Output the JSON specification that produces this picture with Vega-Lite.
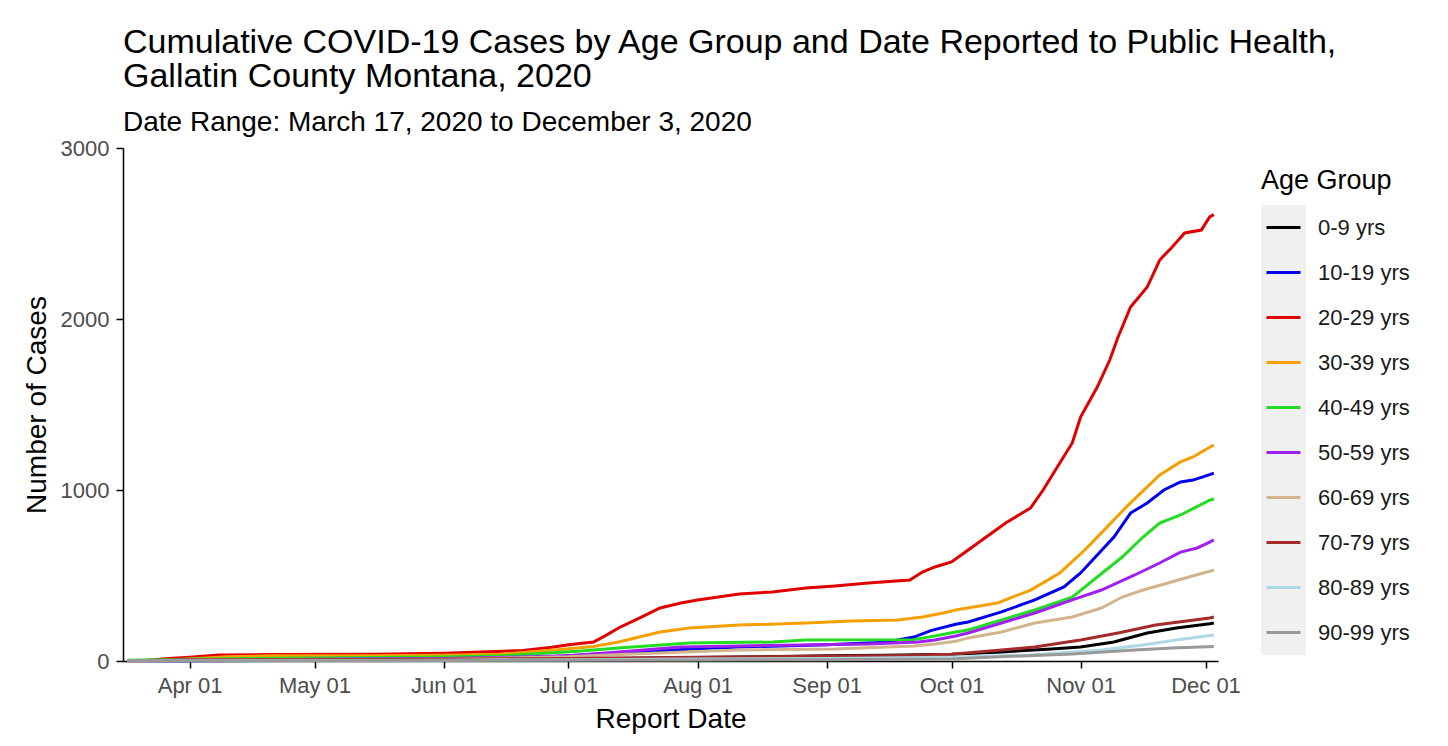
{
  "$schema": "https://vega.github.io/schema/vega-lite/v6.json",
  "width": 1095,
  "height": 513,
  "autosize": {"type": "none"},
  "padding": {"left": 123, "top": 148, "right": 230, "bottom": 85},
  "background": "white",
  "title": {
    "text": ["Cumulative COVID-19 Cases by Age Group and Date Reported to Public Health,", "Gallatin County Montana, 2020"],
    "subtitle": "Date Range: March 17, 2020 to December 3, 2020",
    "anchor": "start",
    "frame": "group",
    "font": "Liberation Sans",
    "subtitleFont": "Liberation Sans",
    "fontSize": 34,
    "subtitleFontSize": 28,
    "fontWeight": "normal",
    "color": "black",
    "subtitleColor": "black",
    "lineHeight": 34,
    "subtitlePadding": 15,
    "offset": 0
  },
  "config": {
    "font": "Liberation Sans",
    "view": {"stroke": null},
    "axis": {
      "labelFont": "Liberation Sans",
      "titleFont": "Liberation Sans",
      "grid": false,
      "domainColor": "black",
      "tickColor": "black",
      "labelColor": "#4D4D4D",
      "titleColor": "black",
      "titleFontWeight": "normal",
      "domainWidth": 1.5,
      "tickWidth": 1.5,
      "tickSize": 7
    },
    "legend": {
      "labelFont": "Liberation Sans",
      "titleFont": "Liberation Sans"
    }
  },
  "data": {
    "values": [
      {"g":"0-9 yrs","d":"2020-03-17","v":0},{"g":"0-9 yrs","d":"2020-04-01","v":2},{"g":"0-9 yrs","d":"2020-05-01","v":3},{"g":"0-9 yrs","d":"2020-06-01","v":5},{"g":"0-9 yrs","d":"2020-07-01","v":12},{"g":"0-9 yrs","d":"2020-08-01","v":20},{"g":"0-9 yrs","d":"2020-09-01","v":30},{"g":"0-9 yrs","d":"2020-09-15","v":33},{"g":"0-9 yrs","d":"2020-10-01","v":40},{"g":"0-9 yrs","d":"2020-10-13","v":53},{"g":"0-9 yrs","d":"2020-10-25","v":70},{"g":"0-9 yrs","d":"2020-11-01","v":82},{"g":"0-9 yrs","d":"2020-11-09","v":111},{"g":"0-9 yrs","d":"2020-11-17","v":164},{"g":"0-9 yrs","d":"2020-11-24","v":193},{"g":"0-9 yrs","d":"2020-12-02","v":218},{"g":"0-9 yrs","d":"2020-12-03","v":222},

      {"g":"10-19 yrs","d":"2020-03-17","v":0},{"g":"10-19 yrs","d":"2020-04-01","v":2},{"g":"10-19 yrs","d":"2020-05-01","v":4},{"g":"10-19 yrs","d":"2020-06-01","v":7},{"g":"10-19 yrs","d":"2020-06-15","v":12},{"g":"10-19 yrs","d":"2020-07-01","v":30},{"g":"10-19 yrs","d":"2020-07-15","v":50},{"g":"10-19 yrs","d":"2020-08-01","v":72},{"g":"10-19 yrs","d":"2020-08-11","v":82},{"g":"10-19 yrs","d":"2020-09-01","v":95},{"g":"10-19 yrs","d":"2020-09-15","v":110},{"g":"10-19 yrs","d":"2020-09-22","v":140},{"g":"10-19 yrs","d":"2020-09-26","v":178},{"g":"10-19 yrs","d":"2020-10-02","v":215},{"g":"10-19 yrs","d":"2020-10-05","v":228},{"g":"10-19 yrs","d":"2020-10-13","v":287},{"g":"10-19 yrs","d":"2020-10-21","v":357},{"g":"10-19 yrs","d":"2020-10-28","v":433},{"g":"10-19 yrs","d":"2020-11-01","v":515},{"g":"10-19 yrs","d":"2020-11-05","v":620},{"g":"10-19 yrs","d":"2020-11-09","v":725},{"g":"10-19 yrs","d":"2020-11-13","v":865},{"g":"10-19 yrs","d":"2020-11-17","v":924},{"g":"10-19 yrs","d":"2020-11-21","v":1000},{"g":"10-19 yrs","d":"2020-11-25","v":1047},{"g":"10-19 yrs","d":"2020-11-28","v":1058},{"g":"10-19 yrs","d":"2020-12-02","v":1090},{"g":"10-19 yrs","d":"2020-12-03","v":1099},

      {"g":"20-29 yrs","d":"2020-03-17","v":0},{"g":"20-29 yrs","d":"2020-03-22","v":5},{"g":"20-29 yrs","d":"2020-03-27","v":15},{"g":"20-29 yrs","d":"2020-04-01","v":22},{"g":"20-29 yrs","d":"2020-04-08","v":35},{"g":"20-29 yrs","d":"2020-04-20","v":38},{"g":"20-29 yrs","d":"2020-05-15","v":40},{"g":"20-29 yrs","d":"2020-06-01","v":45},{"g":"20-29 yrs","d":"2020-06-10","v":52},{"g":"20-29 yrs","d":"2020-06-20","v":62},{"g":"20-29 yrs","d":"2020-06-27","v":80},{"g":"20-29 yrs","d":"2020-07-01","v":95},{"g":"20-29 yrs","d":"2020-07-07","v":111},{"g":"20-29 yrs","d":"2020-07-10","v":150},{"g":"20-29 yrs","d":"2020-07-13","v":193},{"g":"20-29 yrs","d":"2020-07-18","v":251},{"g":"20-29 yrs","d":"2020-07-23","v":310},{"g":"20-29 yrs","d":"2020-07-28","v":339},{"g":"20-29 yrs","d":"2020-08-01","v":357},{"g":"20-29 yrs","d":"2020-08-11","v":392},{"g":"20-29 yrs","d":"2020-08-19","v":404},{"g":"20-29 yrs","d":"2020-08-27","v":427},{"g":"20-29 yrs","d":"2020-09-03","v":439},{"g":"20-29 yrs","d":"2020-09-11","v":456},{"g":"20-29 yrs","d":"2020-09-21","v":474},{"g":"20-29 yrs","d":"2020-09-24","v":520},{"g":"20-29 yrs","d":"2020-09-27","v":550},{"g":"20-29 yrs","d":"2020-10-01","v":579},{"g":"20-29 yrs","d":"2020-10-04","v":632},{"g":"20-29 yrs","d":"2020-10-09","v":719},{"g":"20-29 yrs","d":"2020-10-14","v":807},{"g":"20-29 yrs","d":"2020-10-20","v":895},{"g":"20-29 yrs","d":"2020-10-23","v":1000},{"g":"20-29 yrs","d":"2020-10-27","v":1158},{"g":"20-29 yrs","d":"2020-10-30","v":1275},{"g":"20-29 yrs","d":"2020-11-01","v":1427},{"g":"20-29 yrs","d":"2020-11-05","v":1602},{"g":"20-29 yrs","d":"2020-11-08","v":1760},{"g":"20-29 yrs","d":"2020-11-10","v":1895},{"g":"20-29 yrs","d":"2020-11-13","v":2070},{"g":"20-29 yrs","d":"2020-11-17","v":2187},{"g":"20-29 yrs","d":"2020-11-20","v":2345},{"g":"20-29 yrs","d":"2020-11-23","v":2421},{"g":"20-29 yrs","d":"2020-11-26","v":2503},{"g":"20-29 yrs","d":"2020-11-30","v":2520},{"g":"20-29 yrs","d":"2020-12-02","v":2597},{"g":"20-29 yrs","d":"2020-12-03","v":2610},

      {"g":"30-39 yrs","d":"2020-03-17","v":0},{"g":"30-39 yrs","d":"2020-03-25","v":5},{"g":"30-39 yrs","d":"2020-04-01","v":12},{"g":"30-39 yrs","d":"2020-04-10","v":25},{"g":"30-39 yrs","d":"2020-04-20","v":30},{"g":"30-39 yrs","d":"2020-05-15","v":31},{"g":"30-39 yrs","d":"2020-06-01","v":33},{"g":"30-39 yrs","d":"2020-06-15","v":40},{"g":"30-39 yrs","d":"2020-06-23","v":55},{"g":"30-39 yrs","d":"2020-07-01","v":72},{"g":"30-39 yrs","d":"2020-07-07","v":85},{"g":"30-39 yrs","d":"2020-07-13","v":111},{"g":"30-39 yrs","d":"2020-07-18","v":140},{"g":"30-39 yrs","d":"2020-07-23","v":170},{"g":"30-39 yrs","d":"2020-07-30","v":193},{"g":"30-39 yrs","d":"2020-08-11","v":210},{"g":"30-39 yrs","d":"2020-08-27","v":222},{"g":"30-39 yrs","d":"2020-09-07","v":234},{"g":"30-39 yrs","d":"2020-09-18","v":240},{"g":"30-39 yrs","d":"2020-09-24","v":257},{"g":"30-39 yrs","d":"2020-09-29","v":281},{"g":"30-39 yrs","d":"2020-10-02","v":298},{"g":"30-39 yrs","d":"2020-10-12","v":339},{"g":"30-39 yrs","d":"2020-10-20","v":415},{"g":"30-39 yrs","d":"2020-10-27","v":515},{"g":"30-39 yrs","d":"2020-11-02","v":649},{"g":"30-39 yrs","d":"2020-11-06","v":749},{"g":"30-39 yrs","d":"2020-11-12","v":901},{"g":"30-39 yrs","d":"2020-11-20","v":1088},{"g":"30-39 yrs","d":"2020-11-25","v":1164},{"g":"30-39 yrs","d":"2020-11-28","v":1193},{"g":"30-39 yrs","d":"2020-12-02","v":1250},{"g":"30-39 yrs","d":"2020-12-03","v":1263},

      {"g":"40-49 yrs","d":"2020-03-17","v":5},{"g":"40-49 yrs","d":"2020-04-01","v":10},{"g":"40-49 yrs","d":"2020-05-01","v":18},{"g":"40-49 yrs","d":"2020-06-01","v":24},{"g":"40-49 yrs","d":"2020-06-15","v":30},{"g":"40-49 yrs","d":"2020-07-04","v":58},{"g":"40-49 yrs","d":"2020-07-13","v":76},{"g":"40-49 yrs","d":"2020-07-30","v":105},{"g":"40-49 yrs","d":"2020-08-19","v":111},{"g":"40-49 yrs","d":"2020-08-27","v":123},{"g":"40-49 yrs","d":"2020-09-22","v":125},{"g":"40-49 yrs","d":"2020-09-27","v":146},{"g":"40-49 yrs","d":"2020-10-02","v":170},{"g":"40-49 yrs","d":"2020-10-05","v":181},{"g":"40-49 yrs","d":"2020-10-13","v":240},{"g":"40-49 yrs","d":"2020-10-21","v":298},{"g":"40-49 yrs","d":"2020-10-30","v":374},{"g":"40-49 yrs","d":"2020-11-05","v":491},{"g":"40-49 yrs","d":"2020-11-11","v":608},{"g":"40-49 yrs","d":"2020-11-16","v":725},{"g":"40-49 yrs","d":"2020-11-20","v":807},{"g":"40-49 yrs","d":"2020-11-25","v":854},{"g":"40-49 yrs","d":"2020-12-02","v":940},{"g":"40-49 yrs","d":"2020-12-03","v":947},

      {"g":"50-59 yrs","d":"2020-03-17","v":0},{"g":"50-59 yrs","d":"2020-04-01","v":5},{"g":"50-59 yrs","d":"2020-05-01","v":10},{"g":"50-59 yrs","d":"2020-06-01","v":14},{"g":"50-59 yrs","d":"2020-07-01","v":30},{"g":"50-59 yrs","d":"2020-07-13","v":53},{"g":"50-59 yrs","d":"2020-07-28","v":82},{"g":"50-59 yrs","d":"2020-08-11","v":88},{"g":"50-59 yrs","d":"2020-08-26","v":94},{"g":"50-59 yrs","d":"2020-09-11","v":99},{"g":"50-59 yrs","d":"2020-09-23","v":111},{"g":"50-59 yrs","d":"2020-09-27","v":123},{"g":"50-59 yrs","d":"2020-10-02","v":146},{"g":"50-59 yrs","d":"2020-10-05","v":164},{"g":"50-59 yrs","d":"2020-10-13","v":222},{"g":"50-59 yrs","d":"2020-10-21","v":281},{"g":"50-59 yrs","d":"2020-10-30","v":357},{"g":"50-59 yrs","d":"2020-11-06","v":415},{"g":"50-59 yrs","d":"2020-11-14","v":503},{"g":"50-59 yrs","d":"2020-11-20","v":573},{"g":"50-59 yrs","d":"2020-11-25","v":637},{"g":"50-59 yrs","d":"2020-11-29","v":661},{"g":"50-59 yrs","d":"2020-12-02","v":695},{"g":"50-59 yrs","d":"2020-12-03","v":708},

      {"g":"60-69 yrs","d":"2020-03-17","v":0},{"g":"60-69 yrs","d":"2020-04-01","v":5},{"g":"60-69 yrs","d":"2020-05-01","v":8},{"g":"60-69 yrs","d":"2020-06-01","v":10},{"g":"60-69 yrs","d":"2020-07-01","v":25},{"g":"60-69 yrs","d":"2020-07-15","v":40},{"g":"60-69 yrs","d":"2020-08-01","v":55},{"g":"60-69 yrs","d":"2020-08-11","v":64},{"g":"60-69 yrs","d":"2020-09-03","v":70},{"g":"60-69 yrs","d":"2020-09-22","v":88},{"g":"60-69 yrs","d":"2020-09-27","v":100},{"g":"60-69 yrs","d":"2020-10-02","v":115},{"g":"60-69 yrs","d":"2020-10-05","v":135},{"g":"60-69 yrs","d":"2020-10-13","v":170},{"g":"60-69 yrs","d":"2020-10-21","v":222},{"g":"60-69 yrs","d":"2020-10-30","v":257},{"g":"60-69 yrs","d":"2020-11-06","v":310},{"g":"60-69 yrs","d":"2020-11-11","v":374},{"g":"60-69 yrs","d":"2020-11-16","v":415},{"g":"60-69 yrs","d":"2020-11-22","v":456},{"g":"60-69 yrs","d":"2020-11-27","v":491},{"g":"60-69 yrs","d":"2020-12-02","v":525},{"g":"60-69 yrs","d":"2020-12-03","v":532},

      {"g":"70-79 yrs","d":"2020-03-17","v":0},{"g":"70-79 yrs","d":"2020-03-25","v":5},{"g":"70-79 yrs","d":"2020-04-01","v":6},{"g":"70-79 yrs","d":"2020-05-01","v":8},{"g":"70-79 yrs","d":"2020-06-01","v":10},{"g":"70-79 yrs","d":"2020-07-01","v":15},{"g":"70-79 yrs","d":"2020-08-01","v":22},{"g":"70-79 yrs","d":"2020-09-01","v":28},{"g":"70-79 yrs","d":"2020-09-20","v":32},{"g":"70-79 yrs","d":"2020-10-01","v":40},{"g":"70-79 yrs","d":"2020-10-13","v":64},{"g":"70-79 yrs","d":"2020-10-21","v":82},{"g":"70-79 yrs","d":"2020-11-01","v":123},{"g":"70-79 yrs","d":"2020-11-10","v":164},{"g":"70-79 yrs","d":"2020-11-19","v":210},{"g":"70-79 yrs","d":"2020-12-02","v":251},{"g":"70-79 yrs","d":"2020-12-03","v":257},

      {"g":"80-89 yrs","d":"2020-03-17","v":0},{"g":"80-89 yrs","d":"2020-04-01","v":2},{"g":"80-89 yrs","d":"2020-05-01","v":3},{"g":"80-89 yrs","d":"2020-06-01","v":5},{"g":"80-89 yrs","d":"2020-07-01","v":8},{"g":"80-89 yrs","d":"2020-08-01","v":12},{"g":"80-89 yrs","d":"2020-09-01","v":15},{"g":"80-89 yrs","d":"2020-10-01","v":22},{"g":"80-89 yrs","d":"2020-10-20","v":35},{"g":"80-89 yrs","d":"2020-11-06","v":64},{"g":"80-89 yrs","d":"2020-11-16","v":94},{"g":"80-89 yrs","d":"2020-11-24","v":123},{"g":"80-89 yrs","d":"2020-12-03","v":152},

      {"g":"90-99 yrs","d":"2020-03-17","v":0},{"g":"90-99 yrs","d":"2020-04-01","v":1},{"g":"90-99 yrs","d":"2020-06-01","v":3},{"g":"90-99 yrs","d":"2020-08-01","v":6},{"g":"90-99 yrs","d":"2020-09-01","v":8},{"g":"90-99 yrs","d":"2020-10-01","v":12},{"g":"90-99 yrs","d":"2020-10-10","v":22},{"g":"90-99 yrs","d":"2020-10-30","v":41},{"g":"90-99 yrs","d":"2020-11-14","v":64},{"g":"90-99 yrs","d":"2020-11-23","v":76},{"g":"90-99 yrs","d":"2020-12-03","v":85}
    ]
  },
  "encoding": {
    "x": {
      "field": "d",
      "type": "temporal",
      "scale": {
        "type": "utc",
        "domain": [{"year": 2020, "month": 3, "date": 16, "utc": true}, {"year": 2020, "month": 12, "date": 4, "utc": true}]
      },
      "axis": {
        "title": "Report Date",
        "titleFontSize": 28,
        "labelFontSize": 22,
        "format": "%b %d",
        "labelPadding": 7,
        "titlePadding": 9,
        "values": [
          {"year": 2020, "month": 4, "date": 1, "utc": true},
          {"year": 2020, "month": 5, "date": 1, "utc": true},
          {"year": 2020, "month": 6, "date": 1, "utc": true},
          {"year": 2020, "month": 7, "date": 1, "utc": true},
          {"year": 2020, "month": 8, "date": 1, "utc": true},
          {"year": 2020, "month": 9, "date": 1, "utc": true},
          {"year": 2020, "month": 10, "date": 1, "utc": true},
          {"year": 2020, "month": 11, "date": 1, "utc": true},
          {"year": 2020, "month": 12, "date": 1, "utc": true}
        ]
      }
    },
    "y": {
      "field": "v",
      "type": "quantitative",
      "scale": {"domain": [0, 3000], "nice": false},
      "axis": {
        "title": "Number of Cases",
        "titleFontSize": 28,
        "labelFontSize": 22,
        "format": "d",
        "values": [0, 1000, 2000, 3000],
        "labelPadding": 7,
        "titlePadding": 9
      }
    }
  },
  "layer": [
    {
      "mark": {"type": "point", "opacity": 0},
      "encoding": {
        "fill": {
          "field": "g",
          "type": "nominal",
          "scale": {
            "domain": ["90-99 yrs", "80-89 yrs", "70-79 yrs", "60-69 yrs", "50-59 yrs", "40-49 yrs", "30-39 yrs", "20-29 yrs", "10-19 yrs", "0-9 yrs"],
            "range": ["#F0F0F0", "#F0F0F0", "#F0F0F0", "#F0F0F0", "#F0F0F0", "#F0F0F0", "#F0F0F0", "#F0F0F0", "#F0F0F0", "#F0F0F0"]
          },
          "legend": {
            "orient": "none",
            "legendX": 1138,
            "legendY": 57,
            "title": null,
            "symbolType": "square",
            "symbolSize": 2025,
            "symbolOpacity": 1,
            "symbolStrokeWidth": 0,
            "rowPadding": 0,
            "labelExpr": "''",
            "labelFontSize": 10,
            "zindex": 0
          }
        }
      }
    },
    {
      "mark": {"type": "line", "strokeWidth": 3},
      "encoding": {
        "stroke": {
          "field": "g",
          "type": "nominal",
          "scale": {
            "domain": ["0-9 yrs", "10-19 yrs", "20-29 yrs", "30-39 yrs", "40-49 yrs", "50-59 yrs", "60-69 yrs", "70-79 yrs", "80-89 yrs", "90-99 yrs"],
            "range": ["#000000", "#0000EE", "#E00000", "#F5A000", "#22DD22", "#A020F0", "#D2B48C", "#A52A2A", "#ADD8E6", "#999999"]
          },
          "legend": {
            "orient": "none",
            "legendX": 1138,
            "legendY": 20,
            "title": "Age Group",
            "titleFontSize": 27,
            "titleFontWeight": "normal",
            "titleColor": "black",
            "titlePadding": 14,
            "symbolType": "stroke",
            "symbolSize": 1156,
            "symbolStrokeWidth": 3,
            "symbolOffset": 4,
            "labelFontSize": 22,
            "labelColor": "#1A1A1A",
            "labelOffset": 16,
            "rowPadding": 15,
            "zindex": 1
          }
        }
      }
    }
  ]
}
